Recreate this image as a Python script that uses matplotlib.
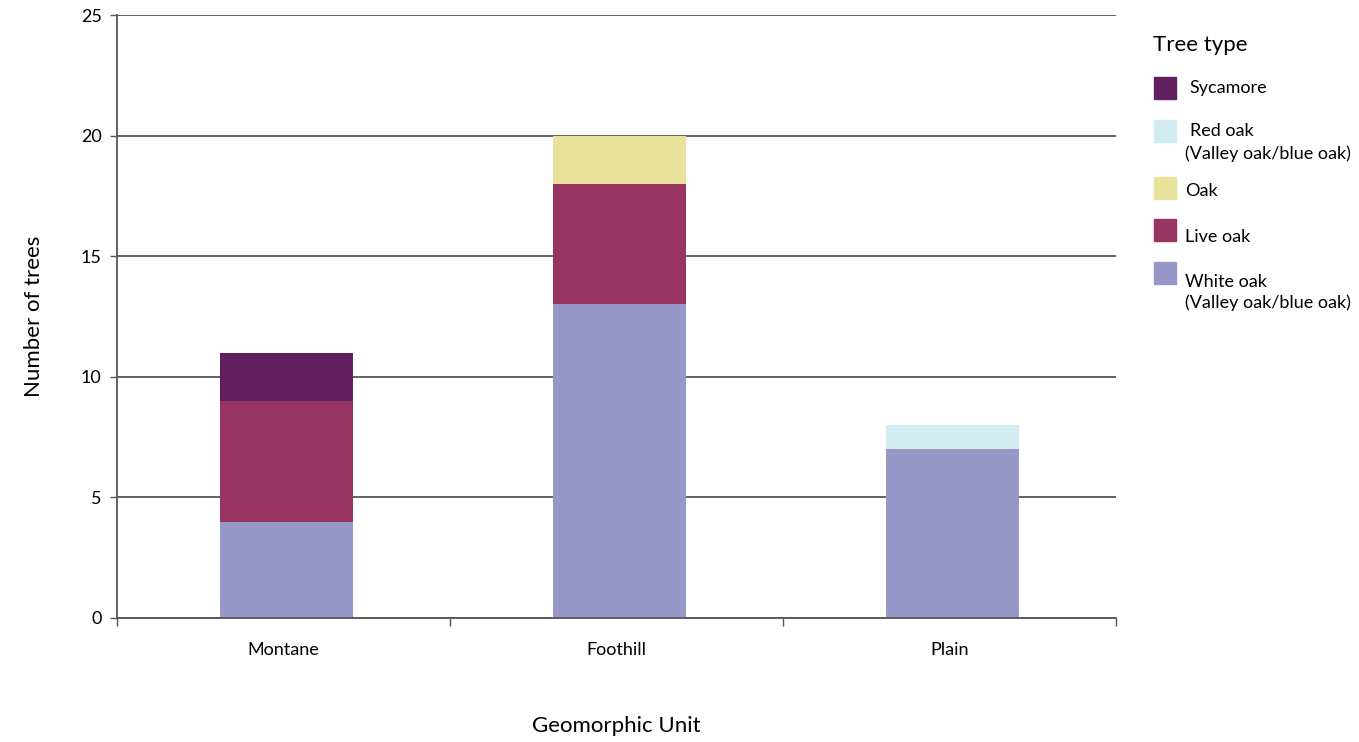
import matplotlib
matplotlib.use("Agg")
import matplotlib.pyplot as plt
from matplotlib.patches import Rectangle
import numpy as np

plt.rcParams['font.family'] = ['Lato', 'DejaVu Sans']

units = ["Montane", "Foothill", "Plain"]
white_oak = [4, 13, 7]
live_oak = [5, 5, 0]
oak = [0, 2, 0]
red_oak = [0, 0, 1]
sycamore = [2, 0, 0]

series = [
    ("White oak\n(Valley oak/blue oak)", white_oak, "#9797c8"),
    ("Live oak", live_oak, "#983462"),
    ("Oak", oak, "#e9e29b"),
    ("Red oak\n(Valley oak/blue oak)", red_oak, "#d3ecf2"),
    ("Sycamore", sycamore, "#622062"),
]
yticks = [0, 5, 10, 15, 20, 25]

W, H = 1359, 742
fig = plt.figure(figsize=(W / 100, H / 100), dpi=100)
ax = fig.add_axes([117 / W, 1 - 618 / H, (1116 - 117) / W, (618 - 15) / H])

x = np.arange(len(units))
bottom = np.zeros(len(units))
for name, vals, col in series:
    ax.bar(x + 0.008, vals, width=0.4, bottom=bottom, color=col, zorder=2)
    bottom += np.array(vals)

ax.set_xlim(-0.5, 2.5)
ax.set_ylim(0, 25)
ax.set_yticks(yticks)
ax.set_yticklabels([str(v) for v in yticks], fontsize=13)
for v in yticks:
    ax.axhline(v, color="#555555", lw=1.3, zorder=1)

ax.set_xticks(x)
ax.set_xticklabels(units, fontsize=13)
ax.tick_params(axis='x', length=0, pad=17)
ax.set_xticks([-0.5, 0.5, 1.5, 2.5], minor=True)
ax.tick_params(axis='x', which='minor', length=6, width=1, color="#555555", direction='out')
ax.tick_params(axis='y', length=5, width=1, color="#555555", pad=6)

for s in ['top', 'right']:
    ax.spines[s].set_visible(False)
for s in ['left', 'bottom']:
    ax.spines[s].set_color("#555555")
    ax.spines[s].set_linewidth(1.3)

ax.set_xlabel("Geomorphic Unit", fontsize=16, labelpad=42)
ax.set_ylabel("Number of trees", fontsize=16)
ax.yaxis.set_label_coords(-0.073, 0.5)

# Legend (manual)
fig.text(1153 / W, 1 - 45 / H, "Tree type", fontsize=16, va='center', ha='left')
leg = [
    ("Sycamore", "#622062", 77, [(1189, 88)]),
    ("Red oak", "#d3ecf2", 120, [(1190, 131), (1185, 154)]),
    ("Oak", "#e9e29b", 177, [(1185, 191)]),
    ("Live oak", "#983462", 219, [(1185, 237)]),
    ("White oak", "#9797c8", 262, [(1185, 282), (1185, 303)]),
]
for name, col, ytop, pos in leg:
    fig.add_artist(Rectangle((1154 / W, 1 - (ytop + 22) / H), 22 / W, 22 / H,
                             transform=fig.transFigure, color=col))
    lines = [name] + (["(Valley oak/blue oak)"] if len(pos) > 1 else [])
    for txt, (px, py) in zip(lines, pos):
        fig.text(px / W, 1 - py / H, txt, fontsize=13, va='center', ha='left')

fig.savefig("out.png", dpi=100)
